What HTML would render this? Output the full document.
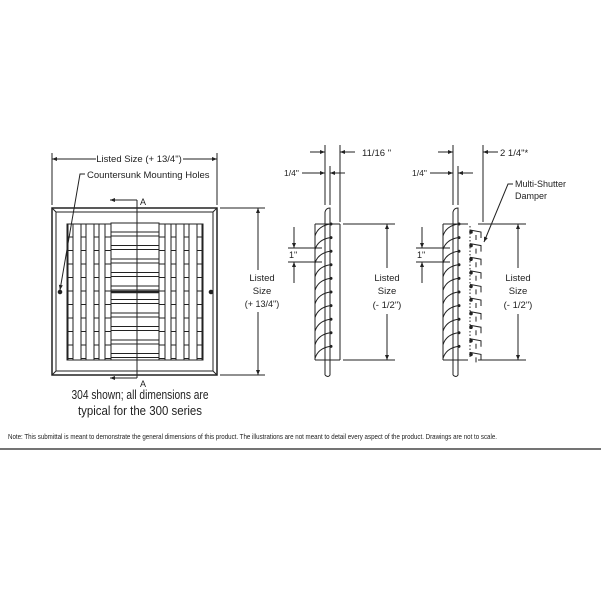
<!DOCTYPE html>
<html><head><meta charset="utf-8"><style>
html,body{margin:0;padding:0;background:#fff;width:601px;height:601px;overflow:hidden}
svg{display:block}
text{font-family:"Liberation Sans",sans-serif;fill:#222}
</style></head><body>
<svg id="s" width="601" height="601" viewBox="0 0 601 601" xmlns="http://www.w3.org/2000/svg" stroke="#222" fill="none" stroke-width="1">
<defs>
<marker id="a" viewBox="0 0 10 10" refX="10" refY="5" markerWidth="7" markerHeight="5" orient="auto-start-reverse"><path d="M0,1 L10,5 L0,9z" fill="#222" stroke="none"/></marker>
</defs>
<line x1="52" y1="153" x2="52" y2="205"/><line x1="217" y1="153" x2="217" y2="205"/>
<line x1="52" y1="159" x2="96" y2="159" marker-start="url(#a)"/>
<line x1="183" y1="159" x2="217" y2="159" marker-end="url(#a)"/>
<text x="139" y="162" font-size="9.5" text-anchor="middle" stroke="none">Listed Size (+ 13/4")</text>
<text x="87" y="178" font-size="9.5" stroke="none">Countersunk Mounting Holes</text>
<polyline points="85,174 80,174 60,290" marker-end="url(#a)"/>
<rect x="52" y="208" width="165" height="167" stroke-width="1.5"/>
<rect x="56" y="212" width="157" height="159"/>
<line x1="52" y1="208" x2="56" y2="212"/><line x1="217" y1="208" x2="213" y2="212"/>
<line x1="52" y1="375" x2="56" y2="371"/><line x1="217" y1="375" x2="213" y2="371"/>
<rect x="67" y="224" width="136" height="136"/>
<circle cx="60" cy="292" r="1.8" fill="#222"/><circle cx="211" cy="292" r="1.8" fill="#222"/>
<g id="front"></g>
<rect x="111" y="223" width="48" height="137" fill="#fff"/>
<g id="center"></g>
<line x1="111" y1="292" x2="159" y2="292" stroke-width="2.5"/>
<line x1="137" y1="200" x2="137" y2="378"/>
<line x1="137" y1="200" x2="110" y2="200" marker-end="url(#a)"/>
<line x1="137" y1="378" x2="110" y2="378" marker-end="url(#a)"/>
<text x="140" y="205" font-size="9" stroke="none">A</text>
<text x="140" y="387" font-size="9" stroke="none">A</text>
<line x1="220" y1="208" x2="265" y2="208"/><line x1="220" y1="375" x2="265" y2="375"/>
<line x1="258" y1="208" x2="258" y2="270" marker-start="url(#a)"/>
<line x1="258" y1="312" x2="258" y2="375" marker-end="url(#a)"/>
<text x="262" y="281" font-size="9.5" text-anchor="middle" stroke="none">Listed</text>
<text x="262" y="294" font-size="9.5" text-anchor="middle" stroke="none">Size</text>
<text x="262" y="307" font-size="9" text-anchor="middle" stroke="none">(+ 13/4")</text>
<text x="140" y="399" font-size="13" text-anchor="middle" stroke="none" textLength="137" lengthAdjust="spacingAndGlyphs">304 shown; all dimensions are</text>
<text x="140" y="415" font-size="13" text-anchor="middle" stroke="none" textLength="124" lengthAdjust="spacingAndGlyphs">typical for the 300 series</text>
<g id="side1"></g>
<g id="side2"></g>
<text x="362" y="156" font-size="9.5" stroke="none">11/16 "</text>
<text x="500" y="156" font-size="9.5" stroke="none">2 1/4"*</text>
<text x="515" y="187" font-size="9" stroke="none">Multi-Shutter</text>
<text x="515" y="199" font-size="9" stroke="none">Damper</text>
<polyline points="513,184 508,184 484,242" marker-end="url(#a)"/>
<text x="8" y="439" font-size="7.2" stroke="none" textLength="489" lengthAdjust="spacingAndGlyphs">Note: This submittal is meant to demonstrate the general dimensions of this product. The illustrations are not meant to detail every aspect of the product. Drawings are not to scale.</text>
<line x1="0" y1="449" x2="601" y2="449" stroke-width="1.2"/>
</svg>
<script>
const NS="http://www.w3.org/2000/svg";
function el(p,t,a){const e=document.createElementNS(NS,t);for(const k in a)e.setAttribute(k,a[k]);p.appendChild(e);return e;}
const f=document.getElementById('front');
[[68,73],[81,86],[94,99],[105,111],[159,165],[171,176],[184,189],[197,202]].forEach(([a,b])=>{el(f,'line',{x1:a,y1:224,x2:a,y2:360});el(f,'line',{x1:b,y1:224,x2:b,y2:360});
 for(let y=237;y<360;y+=13.5) el(f,'line',{x1:a,y1:y,x2:b,y2:y});});
const c=document.getElementById('center');
for(let y=232;y<358;y+=13.5){el(c,'line',{x1:111,y1:y,x2:159,y2:y});el(c,'line',{x1:111,y1:y+4,x2:159,y2:y+4});}
function side(g,dx,damper){
 g=document.getElementById(g);
 el(g,'path',{d:`M${325+dx},375 L${325+dx},212 Q${326+dx},208 ${330+dx},208 L${330+dx},375 Q${328+dx},378 ${325+dx},375`});
 el(g,'line',{x1:315+dx,y1:224,x2:315+dx,y2:360});
 el(g,'line',{x1:315+dx,y1:224,x2:340+dx,y2:224});el(g,'line',{x1:315+dx,y1:360,x2:340+dx,y2:360});
 for(let y=224;y<356;y+=13.6){el(g,'path',{d:`M${315+dx},${y+12} Q${318+dx},${y+2} ${330+dx},${y}`});el(g,'circle',{cx:331+dx,cy:y,r:1,fill:'#222'});}
 el(g,'line',{x1:325+dx,y1:145,x2:325+dx,y2:205});el(g,'line',{x1:330+dx,y1:166,x2:330+dx,y2:205});
 const ex=damper?483-128:340;
 el(g,'line',{x1:dx+ex,y1:145,x2:dx+ex,y2:222});
 el(g,'line',{x1:302+dx,y1:173,x2:325+dx,y2:173,'marker-end':'url(#a)'});
 el(g,'line',{x1:345+dx,y1:173,x2:330+dx,y2:173,'marker-end':'url(#a)'});
 const t=el(g,'text',{x:284+dx,y:176,'font-size':8.5,stroke:'none'});t.textContent='1/4"';
 el(g,'line',{x1:310+dx,y1:152,x2:325+dx,y2:152,'marker-end':'url(#a)'});
 el(g,'line',{x1:ex+15+dx,y1:152,x2:ex+dx,y2:152,'marker-end':'url(#a)'});
 el(g,'line',{x1:288+dx,y1:248,x2:322+dx,y2:248});el(g,'line',{x1:288+dx,y1:262,x2:322+dx,y2:262});
 el(g,'line',{x1:294+dx,y1:227,x2:294+dx,y2:248,'marker-end':'url(#a)'});
 el(g,'line',{x1:294+dx,y1:283,x2:294+dx,y2:262,'marker-end':'url(#a)'});
 const t1=el(g,'text',{x:289+dx,y:258,'font-size':9,stroke:'none'});t1.textContent='1"';
 const vx=damper?518:387;
 el(g,'line',{x1:(damper?478:343),y1:224,x2:vx+8,y2:224});el(g,'line',{x1:(damper?478:343),y1:360,x2:vx+8,y2:360});
 el(g,'line',{x1:vx,y1:224,x2:vx,y2:268,'marker-start':'url(#a)'});
 el(g,'line',{x1:vx,y1:314,x2:vx,y2:360,'marker-end':'url(#a)'});
 [['Listed',281],['Size',294],['(- 1/2")',308]].forEach(([s,y])=>{const tt=el(g,'text',{x:vx,y:y,'font-size':9.5,'text-anchor':'middle',stroke:'none'});tt.textContent=s;});
 if(!damper){el(g,'line',{x1:340,y1:224,x2:340,y2:360});}
 else{
  el(g,'line',{x1:470,y1:226,x2:470,y2:358,'stroke-dasharray':'1.5,2'});
  for(let y=230;y<355;y+=13.6){el(g,'path',{d:`M470,${y} L481,${y+2} L481,${y+8} M476,${y+5} L476,${y+10}`});el(g,'circle',{cx:471,cy:y+2,r:1.3,fill:'#222'});}
 }
}
side('side1',0,false);side('side2',128,true);
</script>
</body></html>
